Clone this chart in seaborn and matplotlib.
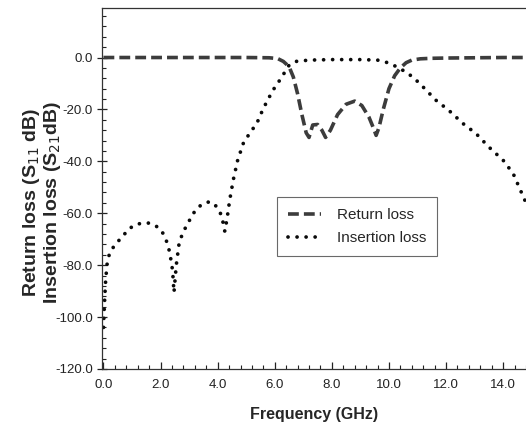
import numpy as np
import pandas as pd
import matplotlib
matplotlib.use("Agg")
import matplotlib.pyplot as plt
from matplotlib.ticker import MultipleLocator, FormatStrFormatter
import seaborn as sns

# return loss (S11)
rl_freq = [0, 1, 2, 3, 4, 5, 5.8, 6.1, 6.3, 6.5, 6.65, 6.8, 6.95, 7.1, 7.2, 7.33,
           7.5, 7.65, 7.78, 7.95, 8.2, 8.5, 8.8, 9.05, 9.3, 9.45, 9.55, 9.65, 9.8,
           10.0, 10.2, 10.4, 10.6, 10.8, 11.1, 11.5, 12, 13, 14, 14.8]
rl_db = [0, 0, 0, 0, 0, 0, -0.1, -0.4, -1.5, -3.5, -7.5, -14, -22, -29, -30.8, -26,
         -25.8, -28, -30.8, -28, -22, -18, -16.8, -18.5, -23, -27, -30, -27, -20,
         -12, -7, -4, -2, -1, -0.5, -0.3, -0.2, -0.1, 0, 0]

# insertion loss (S21)
il_freq = [0, 0.03, 0.07, 0.12, 0.2, 0.35, 0.5, 0.7, 0.9, 1.1, 1.35, 1.6, 1.85, 2.05,
           2.2, 2.32, 2.42, 2.47, 2.55, 2.65, 2.78, 2.95, 3.15, 3.4, 3.65, 3.85, 4.05,
           4.15, 4.25, 4.33, 4.42, 4.55, 4.7, 4.9, 5.12, 5.37, 5.6, 5.93, 6.1, 6.28,
           6.5, 6.75, 7.2, 8, 9, 9.6, 9.9, 10.2, 10.5, 10.85, 11.2, 11.65, 12.1, 12.6,
           13.05, 13.5, 14.0, 14.35, 14.6, 14.8]
il_db = [-104, -96, -87, -80, -76, -73, -71, -68.5, -66, -64.5, -63.8, -63.8, -65, -67,
         -70.5, -75, -82, -90.5, -80, -71.5, -67.5, -64, -60, -57, -55.7, -56, -58.8,
         -61.5, -67, -62, -55, -47, -39.6, -33, -29.2, -25.4, -19.6, -12.7, -10, -6.9,
         -3, -1.5, -1, -0.8, -0.8, -1, -1.8, -3.2, -5, -7.6, -11.4, -16.5, -20.4, -25.5,
         -29.3, -34.5, -39.6, -44.7, -51, -56]

x_ticks = [0, 2, 4, 6, 8, 10, 12, 14]
y_ticks = [0, -20, -40, -60, -80, -100, -120]

sns.set_style("ticks")
plt.rcParams["font.family"] = ["Liberation Sans", "DejaVu Sans"]

fig = plt.figure(figsize=(5.26, 4.32), dpi=100)
ax = fig.add_axes([0.194, 0.146, 0.806, 0.835])

rl = pd.DataFrame({"f": rl_freq, "db": rl_db})
il = pd.DataFrame({"f": il_freq, "db": il_db})

sns.lineplot(data=rl, x="f", y="db", ax=ax, color="#3c3c3c", linewidth=2.6,
             linestyle=(0, (3.0, 1.4)), label="Return loss")
sns.lineplot(data=il, x="f", y="db", ax=ax, color="#0a0a0a", linewidth=2.7,
             linestyle=(0, (0.01, 2.4)), dash_capstyle="round", label="Insertion loss")

ax.set_xlim(-0.05, 14.8)
ax.set_ylim(-120, 19)
ax.set_xticks(x_ticks)
ax.set_yticks(y_ticks)
ax.xaxis.set_major_formatter(FormatStrFormatter("%.1f"))
ax.yaxis.set_major_formatter(FormatStrFormatter("%.1f"))
ax.xaxis.set_minor_locator(MultipleLocator(0.4))
ax.yaxis.set_minor_locator(MultipleLocator(4))
ax.tick_params(axis="x", which="major", direction="in", length=5, width=0.9,
               labelsize=9.5, pad=7, colors="#222222")
ax.tick_params(axis="x", which="minor", direction="in", length=3, width=0.8, colors="#222222")
ax.tick_params(axis="y", which="major", direction="inout", length=7, width=0.9,
               labelsize=9.5, pad=3, colors="#222222")
ax.tick_params(axis="y", which="minor", direction="in", length=3, width=0.8, colors="#222222")

for side in ["left", "bottom", "top"]:
    ax.spines[side].set_linewidth(0.9)
    ax.spines[side].set_color("#333333")
ax.spines["right"].set_visible(False)

ax.set_xlabel("Frequency (GHz)", fontsize=11.5, fontweight="bold", labelpad=12)
ax.set_ylabel("Return loss (S$_{11}$ dB)\nInsertion loss (S$_{21}$dB)",
              fontsize=14, fontweight="bold", linespacing=1.0)
ax.yaxis.set_label_coords(-0.093, 0.463)

leg = ax.legend(loc="upper left", bbox_to_anchor=(0.413, 0.476), fontsize=11,
                frameon=True, fancybox=False, handlelength=2.2, borderpad=0.7,
                labelspacing=0.6, handletextpad=1.0, borderaxespad=0)
leg.get_frame().set_edgecolor("#444444")
leg.get_frame().set_linewidth(0.8)

fig.savefig("out.png", dpi=100)
